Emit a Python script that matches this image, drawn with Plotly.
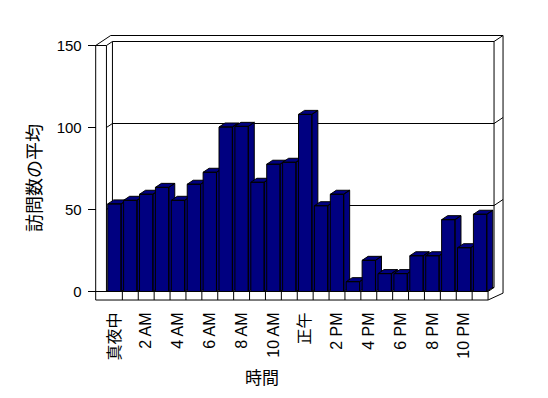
import plotly.graph_objects as go

# ---- data ----
hours = list(range(24))
visits = [53.4, 55.6, 59.3, 63.5, 55.6, 65.4, 72.7, 100.3, 100.7, 66.6, 77.6, 78.8,
          108.0, 52.3, 59.3, 6.0, 19.0, 10.9, 10.9, 21.8, 21.8, 43.8, 26.7, 47.1]
tick_positions = [0, 2, 4, 6, 8, 10, 12, 14, 16, 18, 20, 22]
tick_labels = ["真夜中", "2 AM", "4 AM", "6 AM", "8 AM", "10 AM", "正午",
               "2 PM", "4 PM", "6 PM", "8 PM", "10 PM"]
y_ticks = [0, 50, 100, 150]
grid_values = [50, 100]
y_max = 150

# ---- geometry of the pseudo-3D view ----
OFF = 8                      # page body margin
W_PX, H_PX = 548, 398
pl, pr, pt, pb = 92, 506, 32, 302
ml, mt = pl - OFF, pt - OFF
mr, mb = W_PX - (pr - OFF), H_PX - (pb - OFF)
px_x, x0_px = 15.9, 114.4
px_y, y0_px = 1.64, 291.5
xr = [(pl - x0_px) / px_x, (pr - x0_px) / px_x]
yr = [(y0_px - pb) / px_y, (y0_px - pt) / px_y]

dx, dy = 0.377, 2.44          # depth offset
tx, ty = 0.566, 3.66          # back wall thickness
half = 0.42                   # half bar width
L = (95.7 - x0_px) / px_x     # outer left edge of left wall
T = 5.2                       # floor thickness
n = len(hours)
xl, xrt = -0.5, n - 0.5
R = xrt + dx + tx
top_out = y_max + dy + ty

NAVY = "#000080"
fig = go.Figure()

for h, v in zip(hours, visits):
    a, b = h - half, h + half
    xs = [a, a, b, b, a, None,
          a, a + dx, b + dx, b, a, None,
          b, b, b + dx, b + dx, b]
    ys = [0, v, v, 0, 0, None,
          v, v + dy, v + dy, v, v, None,
          0, v, v + dy, dy, 0]
    fig.add_trace(go.Scatter(x=xs, y=ys, mode="lines", fill="toself",
                             fillcolor=NAVY, line=dict(color="black", width=1),
                             hoverinfo="skip", showlegend=False))

shapes = []
def path(d, fill=None):
    s = dict(type="path", path=d, xref="x", yref="y", layer="below",
             line=dict(color="black", width=1))
    if fill:
        s["fillcolor"] = fill
    shapes.append(s)

def P(x, y):
    return f"{x:.4f},{y:.4f}"

path(f"M{P(L,-T)} L{P(L,y_max)} L{P(L+2.5*dx,top_out)} L{P(R,top_out)} "
     f"L{P(R,-1.0)} L{P(xrt,-T)} Z", fill="white")
path(f"M{P(L,0)} L{P(xrt,0)} L{P(xrt,-T)}")
for h in hours[:-1]:
    path(f"M{P(h+0.5,-T)} L{P(h+0.5,0)}")
path(f"M{P(xrt,0)} L{P(xrt+dx,dy)}")
path(f"M{P(xl,0)} L{P(xl+dx,dy)} L{P(xrt+dx,dy)}")
path(f"M{P(L,y_max)} L{P(xl,y_max)} L{P(xl,0)}")
path(f"M{P(xl,y_max)} L{P(xl+dx,y_max+dy)} L{P(xl+dx,dy)}")
path(f"M{P(xl+dx,y_max+dy)} L{P(xrt+dx,y_max+dy)} L{P(xrt+dx,dy)}")
path(f"M{P(xrt+dx,y_max+dy)} L{P(R,top_out)}")
for g in grid_values:
    path(f"M{P(xl,g)} L{P(xl+dx,g+dy)} L{P(xrt+dx,g+dy)} L{P(R,g+dy+ty)}")

font_main = "Liberation Sans, Arial, Noto Sans CJK JP, sans-serif"
font_cjk = "Noto Sans CJK JP, sans-serif"

pw = pr - pl
ph = pb - pt
def paper_x(px):
    return (px - pl) / pw
def paper_y(py):
    return (pb - py) / ph

fig.update_layout(
    width=W_PX, height=H_PX,
    margin=dict(l=ml, r=mr, t=mt, b=mb),
    paper_bgcolor="white", plot_bgcolor="white",
    template="none",
    shapes=shapes,
    showlegend=False,
    xaxis=dict(range=xr, tickmode="array", tickvals=tick_positions, ticktext=tick_labels,
               tickangle=-90, ticks="outside", ticklen=3, tickcolor="rgba(0,0,0,0)",
               showgrid=False, zeroline=False, showline=False, automargin=False,
               tickfont=dict(family=font_main, size=16, color="black")),
    yaxis=dict(range=yr, tickmode="array", tickvals=y_ticks,
               ticks="outside", ticklen=8, tickcolor="black", tickwidth=1,
               ticklabelstandoff=3,
               showgrid=False, zeroline=False, showline=False, automargin=False,
               anchor="free", position=paper_x(95.7),
               tickfont=dict(family=font_main, size=15, color="black")),
    annotations=[
        dict(text="時間", xref="paper", yref="paper",
             x=paper_x(262), y=paper_y(376),
             xanchor="center", yanchor="middle", showarrow=False,
             font=dict(family=font_cjk, size=17, color="black")),
        dict(text="訪問数の平均", xref="paper", yref="paper", textangle=-90,
             x=paper_x(33), y=paper_y(178),
             xanchor="center", yanchor="middle", showarrow=False,
             font=dict(family=font_cjk, size=18, color="black")),
    ],
)

fig.write_html("out.html")
